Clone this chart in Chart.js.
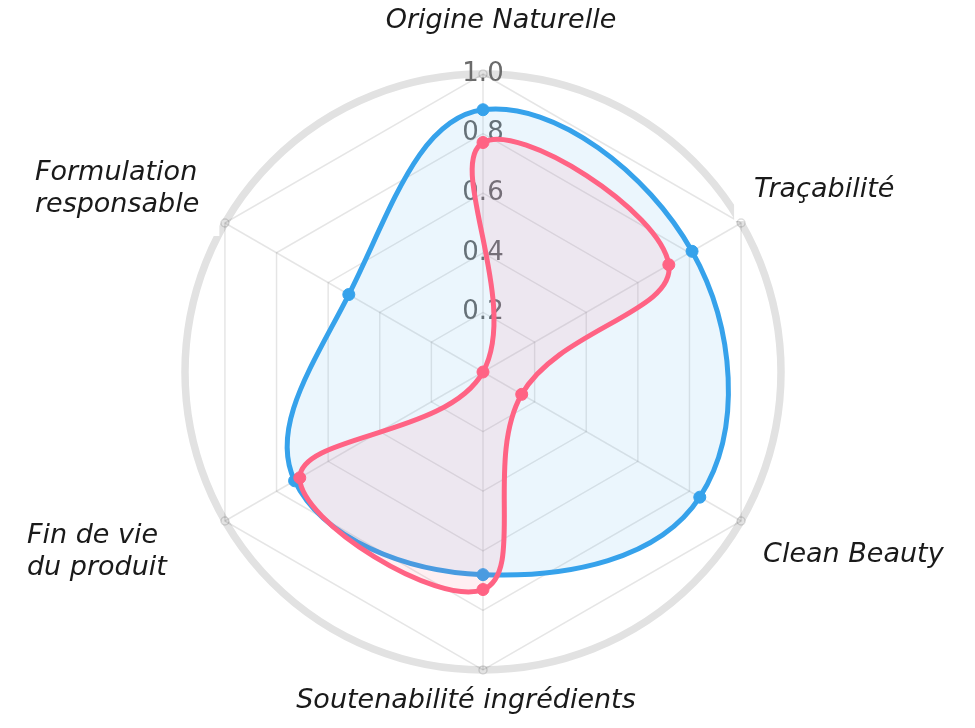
<!DOCTYPE html>
<html>
<head>
<meta charset="utf-8">
<script src="https://cdn.jsdelivr.net/npm/chart.js@4.4.1/dist/chart.umd.min.js"></script>
<style>
  html, body { margin: 0; padding: 0; background: #ffffff; }
  #wrap { width: 975px; height: 728px; position: relative; }
</style>
</head>
<body>
<div id="wrap"><canvas id="c"></canvas></div>
<script>
// ---- data ----
const categories = [
  ['Origine Naturelle'],
  ['Traçabilité'],
  ['Clean Beauty'],
  ['Soutenabilité ingrédients'],
  ['Fin de vie', 'du produit'],
  ['Formulation', 'responsable']
];
const seriesBlue = [0.88, 0.81, 0.84, 0.68, 0.73, 0.52];
const seriesRed  = [0.77, 0.72, 0.15, 0.73, 0.71, 0.00];
const outerRing  = [1, 1, 1, 1, 1, 1];
const tickStep = 0.2;
const scaleMin = 0;
const scaleMax = 1;

// label placement relative to each axis end (first-line baseline)
const labelPlacement = [
  { align: 'center', dx: 18,   dy: -46, backdrop: false },
  { align: 'left',   dx: 13,   dy: -26, backdrop: true },
  { align: 'left',   dx: 22,   dy: 41,  backdrop: true },
  { align: 'center', dx: -17,  dy: 38,  backdrop: false },
  { align: 'left',   dx: -198, dy: 22,  backdrop: true },
  { align: 'left',   dx: -190, dy: -43, backdrop: true }
];
const LABEL_FONT = 'italic 27px "DejaVu Sans"';
const LINE_GAP = 32;

const ringPlugin = {
  id: 'outerRing',
  beforeDraw(chart) {
    const s = chart.scales.r;
    const ctx = chart.ctx;
    ctx.save();
    ctx.beginPath();
    ctx.arc(s.xCenter, s.yCenter, s.getDistanceFromCenterForValue(s.max), 0, Math.PI * 2);
    ctx.lineWidth = 7.5;
    ctx.strokeStyle = 'rgb(226,226,226)';
    ctx.stroke();
    ctx.restore();
  }
};

const labelPlugin = {
  id: 'axisLabels',
  beforeDatasetsDraw(chart) {
    const s = chart.scales.r;
    const ctx = chart.ctx;
    ctx.save();
    ctx.font = LABEL_FONT;
    ctx.textAlign = 'left';
    ctx.textBaseline = 'alphabetic';
    categories.forEach((lines, i) => {
      const v = s.getPointPosition(i, s.drawingArea);
      const o = labelPlacement[i];
      const widths = lines.map(t => ctx.measureText(t).width);
      const w = Math.max(...widths);
      const x0 = o.align === 'center' ? v.x + o.dx - w / 2 : v.x + o.dx;
      const yb = v.y + o.dy;
      if (o.backdrop) {
        const top = yb - 21 - 16;
        const bottom = yb + (lines.length - 1) * LINE_GAP + 8 + 16;
        ctx.fillStyle = '#ffffff';
        ctx.fillRect(x0 - 20, top, w + 40, bottom - top);
      }
      ctx.fillStyle = '#1a1a1a';
      lines.forEach((t, k) => {
        const lx = o.align === 'center' ? v.x + o.dx - widths[k] / 2 : x0;
        ctx.fillText(t, lx, yb + k * LINE_GAP);
      });
    });
    ctx.restore();
  }
};

new Chart(document.getElementById('c'), {
  type: 'radar',
  data: {
    labels: categories,
    datasets: [
      {
        label: 'Rouge',
        data: seriesRed,
        borderColor: 'rgb(255,99,132)',
        backgroundColor: 'rgba(255,99,132,0.1)',
        pointBackgroundColor: 'rgb(255,99,132)',
        pointBorderColor: 'rgb(255,99,132)',
        borderWidth: 5,
        pointRadius: 6,
        pointBorderWidth: 1,
        tension: 0.4,
        fill: true
      },
      {
        label: 'Bleu',
        data: seriesBlue,
        borderColor: 'rgb(54,162,235)',
        backgroundColor: 'rgba(54,162,235,0.1)',
        pointBackgroundColor: 'rgb(54,162,235)',
        pointBorderColor: 'rgb(54,162,235)',
        borderWidth: 5,
        pointRadius: 6,
        pointBorderWidth: 1,
        tension: 0.4,
        fill: true
      },
      {
        label: 'ring',
        data: outerRing,
        showLine: false,
        fill: false,
        borderWidth: 0,
        pointRadius: 4,
        pointBorderWidth: 1.5,
        pointBorderColor: 'rgba(0,0,0,0.13)',
        pointBackgroundColor: 'rgba(0,0,0,0)'
      }
    ]
  },
  options: {
    responsive: true,
    maintainAspectRatio: false,
    animation: false,
    layout: { padding: { top: 59, bottom: 43, left: 0, right: 9 } },
    plugins: {
      legend: { display: false },
      tooltip: { enabled: false }
    },
    scales: {
      r: {
        min: scaleMin,
        max: scaleMax,
        ticks: {
          stepSize: tickStep,
          showLabelBackdrop: false,
          color: '#6b6b6b',
          font: { family: 'DejaVu Sans', size: 26 },
          callback: v => Number(v).toFixed(1)
        },
        grid: { color: 'rgba(0,0,0,0.1)', lineWidth: 1.5 },
        angleLines: { color: 'rgba(0,0,0,0.1)', lineWidth: 1.5 },
        pointLabels: { display: false }
      }
    }
  },
  plugins: [ringPlugin, labelPlugin]
});
</script>
</body>
</html>
